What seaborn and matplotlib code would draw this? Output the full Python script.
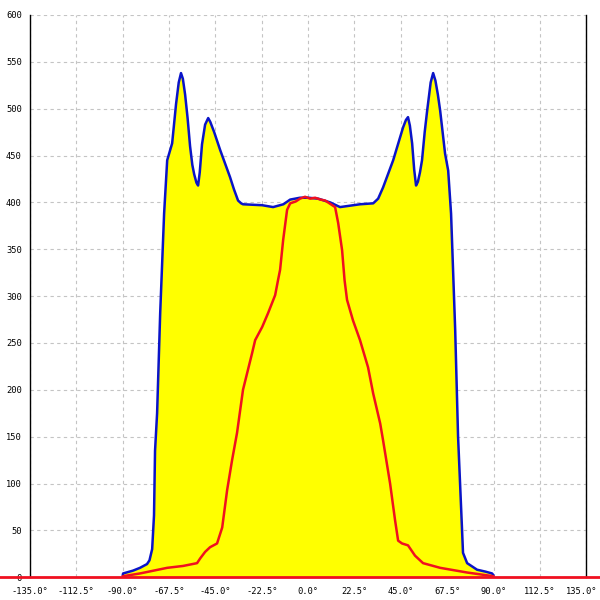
import numpy as np
import pandas as pd
import matplotlib as mpl
mpl.use("Agg")
import matplotlib.pyplot as plt
import matplotlib.transforms as mtransforms
import seaborn as sns

# outer curve (blue, filled yellow)
blue_deg = [-90.0, -89.8, -85.0, -81.6, -78.2, -77.0, -75.7, -74.8, -74.3, -73.3, -71.8,
            -69.9, -68.4, -66.0, -64.1, -62.8, -61.7, -60.8, -59.7, -58.5, -57.3,
            -56.2, -55.3, -54.2, -53.4, -52.6, -51.5, -50.0, -48.5, -47.5, -45.6,
            -42.7, -37.9, -36.0, -34.0, -32.5, -31.6, -22.3, -17.0, -12.0, -8.7,
            -3.9, 0.0, 4.9, 10.7, 15.5, 25.2, 31.6, 34.0, 36.4, 41.3,
            46.1, 47.5, 48.5, 49.4, 50.5, 51.5, 52.4, 53.3, 54.3, 55.3,
            56.6, 57.8, 59.5, 60.7, 61.8, 63.0, 64.1, 66.5, 68.0, 69.4,
            71.4, 72.8, 74.8, 75.2, 77.2, 82.0, 86.0, 89.3, 90.0]
blue_val = [2, 4, 7, 10, 14, 18, 30, 66, 135, 175, 282,
            388, 445, 463, 505, 528, 538, 532, 515, 490, 460,
            440, 430, 421, 418, 432, 462, 483, 490, 486, 475,
            456, 427, 414, 402, 399, 398, 397, 395, 398, 403,
            405, 405, 404, 400, 395, 398, 399, 404, 416, 445,
            480, 488, 491, 482, 463, 435, 418, 422, 432, 445,
            475, 498, 528, 538, 530, 515, 498, 452, 434, 388,
            264, 150, 47, 26, 15, 8, 6, 4, 2]

# inner curve (red)
red_deg = [-90.0, -81.6, -68.4, -60.7, -53.9, -52.4, -50.0, -47.6, -44.2, -41.7,
           -39.3, -36.9, -34.5, -31.6, -27.2, -25.7, -22.3, -19.4, -16.0, -14.6,
           -13.6, -12.1, -10.2, -8.7, -6.0, -3.9, -1.5, 1.0, 3.4, 6.0,
           8.3, 13.1, 14.6, 16.5, 17.7, 18.9, 21.8, 25.2, 29.1, 31.6,
           35.0, 36.4, 39.8, 42.2, 43.7, 45.6, 48.5, 51.9, 55.8, 64.1,
           77.2, 90.0]
red_val = [1, 4, 10, 12, 15, 20, 27, 32, 36, 53,
           93, 125, 154, 200, 239, 253, 267, 282, 301, 317,
           328, 360, 392, 399, 401, 404, 406, 404, 405, 403,
           402, 395, 378, 349, 317, 296, 274, 253, 224, 196,
           164, 146, 100, 61, 39, 36, 34, 23, 15, 10,
           5, 1]

x_ticks = [-135.0, -112.5, -90.0, -67.5, -45.0, -22.5, 0.0, 22.5, 45.0, 67.5, 90.0, 112.5, 135.0]
y_ticks = list(range(0, 601, 50))

outer = pd.DataFrame({"deg": blue_deg, "val": blue_val})
inner = pd.DataFrame({"deg": red_deg, "val": red_val})

sns.set_style("white")
plt.rcParams["font.family"] = ["DejaVu Sans Mono"]

fig = plt.figure(figsize=(6, 6), dpi=100)
ax = fig.add_axes([0.05, 0.038, 0.927, 0.937])

ax.fill_between(outer["deg"], outer["val"], 0, color="#ffff00", lw=0, zorder=1)
sns.lineplot(data=outer, x="deg", y="val", sort=False, color="#0a14c8", lw=1.8, ax=ax, zorder=3)
sns.lineplot(data=inner, x="deg", y="val", sort=False, color="#f01020", lw=1.8, ax=ax, zorder=4)

ax.axhline(0, xmin=-0.06, xmax=1.03, color="#f01020", lw=2, clip_on=False, zorder=5)

ax.set_xlim(-135, 135)
ax.set_ylim(0, 600)
ax.set_xticks(x_ticks)
ax.set_xticklabels([f"{t:.1f}°" for t in x_ticks])
ax.set_yticks(y_ticks)
ax.set_yticklabels([str(t) for t in y_ticks])
ax.set_xlabel("")
ax.set_ylabel("")

ax.grid(True, color="#c4c4c4", ls=(0, (3, 3)), lw=0.8, zorder=0)
ax.set_axisbelow(True)

for side in ["top", "bottom"]:
    ax.spines[side].set_visible(False)
ax.spines["left"].set_color("black")
ax.spines["right"].set_color("black")
ax.spines["left"].set_linewidth(1)
ax.spines["right"].set_linewidth(1)

ax.tick_params(axis="both", direction="inout", length=8, width=1, color="black",
               labelsize=6.3, labelcolor="black")
ax.tick_params(axis="y", pad=2)
ax.tick_params(axis="x", pad=3)

# keep the last x label inside the figure
last = ax.get_xticklabels()[-1]
last.set_transform(last.get_transform() + mtransforms.ScaledTranslation(-3 / 72, 0, fig.dpi_scale_trans))

fig.savefig("out.png", dpi=100)
